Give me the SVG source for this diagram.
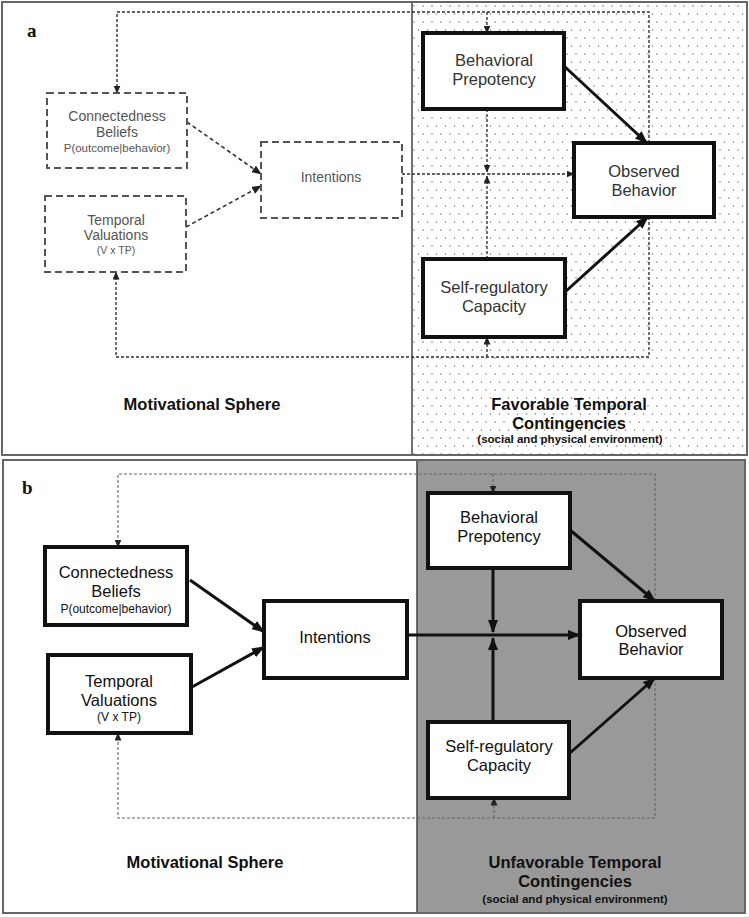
<svg xmlns="http://www.w3.org/2000/svg" width="749" height="917" viewBox="0 0 749 917">
<style>
text{font-family:"Liberation Sans",Arial,sans-serif;text-anchor:middle;}
.lbl{font-family:"Liberation Serif","Times New Roman",serif;font-weight:bold;font-size:19px;text-anchor:start;fill:#111;}
.na{font-size:14px;fill:#555;}
.nas{font-size:11.5px;fill:#555;}
.nb{font-size:16.5px;fill:#111;}
.nbs{font-size:12px;fill:#111;}
.sph{font-size:16.5px;font-weight:bold;fill:#111;}
.env{font-size:11.5px;font-weight:bold;fill:#111;}
.frame{fill:none;stroke:#666;stroke-width:2;}
.div{stroke:#444;stroke-width:1.5;}
.dbox{fill:#fff;stroke:#555;stroke-width:2;stroke-dasharray:7 4;}
.sbox{fill:#fff;stroke:#111;stroke-width:4;}
.thick{fill:none;stroke:#111;stroke-width:3;}
.dash{fill:none;stroke:#333;stroke-width:1.6;stroke-dasharray:4 3;}
.dot{fill:none;stroke:#333;stroke-width:1.4;stroke-dasharray:3 2;}
.dotb{fill:none;stroke:#666;stroke-width:1.1;stroke-dasharray:3 2;}
</style>
<defs>
<pattern id="dots" x="412" y="3" width="9" height="16" patternUnits="userSpaceOnUse">
<circle cx="2" cy="3" r="0.8" fill="#777"/>
<circle cx="6.5" cy="11" r="0.8" fill="#777"/>
</pattern>
<marker id="ah" markerUnits="userSpaceOnUse" markerWidth="13" markerHeight="10" refX="12" refY="5" orient="auto">
<path d="M0,0 L13,5 L0,10 z" fill="#111"/>
</marker>
<marker id="ahm" markerUnits="userSpaceOnUse" markerWidth="10" markerHeight="8" refX="9" refY="4" orient="auto">
<path d="M0,0 L10,4 L0,8 z" fill="#222"/>
</marker>
<marker id="ahs" markerUnits="userSpaceOnUse" markerWidth="8" markerHeight="7" refX="7.5" refY="3.5" orient="auto">
<path d="M0,0 L8,3.5 L0,7 z" fill="#222"/>
</marker>
</defs>

<!-- Panel a background -->
<g id="panel-a">
<rect x="2" y="2" width="745" height="453" fill="#fff"/>
<rect x="412" y="3" width="334" height="451" fill="url(#dots)"/>
<rect class="frame" x="2" y="2" width="745" height="453"/>
<line class="div" x1="412" y1="3" x2="412" y2="454"/>
<text class="lbl" x="27" y="37">a</text>
<text class="sph" x="202" y="410">Motivational Sphere</text>
<text class="sph" x="569" y="410">Favorable Temporal</text>
<text class="sph" x="569" y="429">Contingencies</text>
<text class="env" x="570" y="443">(social and physical environment)</text>
</g>

<!-- Panel b background -->
<g id="panel-b">
<rect x="3" y="460" width="742" height="453" fill="#fff"/>
<rect x="417" y="461" width="327" height="451" fill="#999"/>
<rect class="frame" x="3" y="460" width="742" height="453"/>
<line class="div" x1="417" y1="461" x2="417" y2="912"/>
<text class="lbl" x="22" y="494">b</text>
<text class="sph" x="205" y="868">Motivational Sphere</text>
<text class="sph" x="575" y="868">Unfavorable Temporal</text>
<text class="sph" x="575" y="887">Contingencies</text>
<text class="env" x="575" y="903">(social and physical environment)</text>
</g>

<!-- Connectors -->
<g id="connectors">
<!-- panel a -->
<path class="dash" d="M187,122 L261,174" marker-end="url(#ahm)"/>
<path class="dash" d="M186,227 L261,186" marker-end="url(#ahm)"/>
<path class="dot" d="M402,174 L574,174" marker-end="url(#ahs)"/>
<path class="dot" d="M487,109 L487,172" marker-end="url(#ahs)"/>
<path class="dot" d="M487,259 L487,176" marker-end="url(#ahs)"/>
<path class="thick" d="M564,66 L647,143" marker-end="url(#ah)"/>
<path class="thick" d="M565,292 L648,217" marker-end="url(#ah)"/>
<path class="dot" d="M649,143 L649,12 L117,12 L117,93" marker-end="url(#ahs)"/>
<path class="dot" d="M487,12 L487,33" marker-end="url(#ahs)"/>
<path class="dot" d="M649,217 L649,357 L116,357 L116,272" marker-end="url(#ahs)"/>
<path class="dot" d="M487,357 L487,337" marker-end="url(#ahs)"/>
<!-- panel b -->
<path class="thick" d="M190,580 L264,632" marker-end="url(#ah)"/>
<path class="thick" d="M192,687 L264,647" marker-end="url(#ah)"/>
<path class="thick" d="M407,635 L580,635" marker-end="url(#ah)"/>
<path class="thick" d="M493,568 L493,632" marker-end="url(#ah)"/>
<path class="thick" d="M493,722 L493,638" marker-end="url(#ah)"/>
<path class="thick" d="M570,530 L655,601" marker-end="url(#ah)"/>
<path class="thick" d="M570,753 L655,678" marker-end="url(#ah)"/>
<path class="dotb" d="M655,601 L655,474 L118,474 L118,547" marker-end="url(#ahs)"/>
<path class="dotb" d="M493,474 L493,493" marker-end="url(#ahs)"/>
<path class="dotb" d="M655,678 L655,818 L118,818 L118,733" marker-end="url(#ahs)"/>
<path class="dotb" d="M494,818 L494,798" marker-end="url(#ahs)"/>
</g>

<!-- Panel a nodes -->
<g id="a-connectedness">
<rect class="dbox" x="47" y="93" width="140" height="75"/>
<text class="na" x="117" y="121">Connectedness</text>
<text class="na" x="117" y="137">Beliefs</text>
<text class="nas" x="117" y="152">P(outcome|behavior)</text>
</g>
<g id="a-temporal">
<rect class="dbox" x="45" y="196" width="141" height="76"/>
<text class="na" x="116" y="225">Temporal</text>
<text class="na" x="116" y="240">Valuations</text>
<text class="nas" x="116" y="254" style="font-size:10.5px">(V x TP)</text>
</g>
<g id="a-intentions">
<rect class="dbox" x="261" y="142" width="141" height="76"/>
<text class="na" x="331" y="182">Intentions</text>
</g>
<g id="a-prepotency">
<rect class="sbox" x="423" y="33" width="141" height="76"/>
<text class="nb" x="494" y="66" style="fill:#333">Behavioral</text>
<text class="nb" x="494" y="85" style="fill:#333">Prepotency</text>
</g>
<g id="a-observed">
<rect class="sbox" x="574" y="143" width="140" height="74"/>
<text class="nb" x="644" y="177" style="fill:#333">Observed</text>
<text class="nb" x="644" y="196" style="fill:#333">Behavior</text>
</g>
<g id="a-selfreg">
<rect class="sbox" x="423" y="259" width="142" height="78"/>
<text class="nb" x="494" y="293" style="fill:#333">Self-regulatory</text>
<text class="nb" x="494" y="312" style="fill:#333">Capacity</text>
</g>

<!-- Panel b nodes -->
<g id="b-connectedness">
<rect class="sbox" x="45" y="547" width="142" height="78"/>
<text class="nb" x="116" y="578">Connectedness</text>
<text class="nb" x="116" y="597">Beliefs</text>
<text class="nbs" x="116" y="613">P(outcome|behavior)</text>
</g>
<g id="b-temporal">
<rect class="sbox" x="48" y="655" width="143" height="78"/>
<text class="nb" x="119" y="687">Temporal</text>
<text class="nb" x="119" y="706">Valuations</text>
<text class="nbs" x="119" y="721">(V x TP)</text>
</g>
<g id="b-intentions">
<rect class="sbox" x="264" y="601" width="143" height="77"/>
<text class="nb" x="335" y="643">Intentions</text>
</g>
<g id="b-prepotency">
<rect class="sbox" x="428" y="493" width="142" height="75"/>
<text class="nb" x="499" y="523">Behavioral</text>
<text class="nb" x="499" y="542">Prepotency</text>
</g>
<g id="b-observed">
<rect class="sbox" x="580" y="601" width="142" height="77"/>
<text class="nb" x="651" y="637">Observed</text>
<text class="nb" x="651" y="655">Behavior</text>
</g>
<g id="b-selfreg">
<rect class="sbox" x="428" y="722" width="141" height="76"/>
<text class="nb" x="499" y="752">Self-regulatory</text>
<text class="nb" x="499" y="771">Capacity</text>
</g>
</svg>
